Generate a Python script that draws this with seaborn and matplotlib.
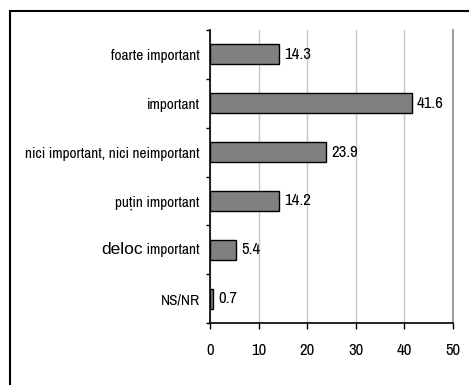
import matplotlib
matplotlib.use("Agg")
import matplotlib.pyplot as plt
import seaborn as sns
import pandas as pd
from matplotlib.patches import Rectangle
from matplotlib.offsetbox import TextArea, HPacker, AnnotationBbox

categories = ["foarte important", "important", "nici important, nici neimportant",
              "puțin important", "deloc important", "NS/NR"]
values = [14.3, 41.6, 23.9, 14.2, 5.4, 0.7]
xticks = [0, 10, 20, 30, 40, 50]

sns.set_style("white")
NARROW = ["Archivo Narrow", "Liberation Sans", "DejaVu Sans"]
WIDE = ["Liberation Sans", "DejaVu Sans"]
plt.rcParams["font.family"] = NARROW
plt.rcParams["text.color"] = "black"
plt.rcParams["xtick.color"] = "black"
plt.rcParams["ytick.color"] = "black"
FS_CAT = 11
FS_NUM = 12

df = pd.DataFrame({"cat": categories, "val": values})

fig = plt.figure(figsize=(4.69, 3.85), dpi=100)
ax = fig.add_axes([210/469, 1 - 323/385, (453 - 210)/469, (323 - 30)/385])

sns.barplot(data=df, x="val", y="cat", orient="h", color="#808080", saturation=1,
            edgecolor="black", linewidth=1, width=0.41, ax=ax)

ax.set_xlim(0, 50)
ax.set_ylim(5.5, -0.5)
ax.set_xlabel("")
ax.set_ylabel("")
ax.set_xticks(xticks)
ax.set_xticklabels([str(t) for t in xticks], fontsize=FS_NUM)
ax.xaxis.grid(True, color="#c8c8c8", linewidth=1)
ax.set_axisbelow(True)

# y ticks at category boundaries, labels at centers
ax.set_yticks(range(len(categories)))
labels = list(categories)
labels[4] = ""
ax.set_yticklabels(labels, fontsize=FS_CAT)
ax.set_yticks([i + 0.5 for i in range(-1, len(categories))], minor=True)
ax.tick_params(axis="y", which="major", length=0, pad=7.5)
ax.tick_params(axis="y", which="minor", left=True, length=3, width=1, color="black", direction="out")
ax.tick_params(axis="x", which="major", bottom=True, length=4, width=1, color="black",
               direction="out", pad=10.5)

ax.spines["top"].set_visible(False)
ax.spines["left"].set_color("black")
ax.spines["left"].set_linewidth(1.2)
ax.spines["bottom"].set_color("black")
ax.spines["bottom"].set_linewidth(1.2)
ax.spines["right"].set_color("#a0a0a0")
ax.spines["right"].set_linewidth(1.5)

# mixed-font label for "deloc important"
pk = HPacker(children=[TextArea("deloc", textprops=dict(family=WIDE, size=12.5, color="black")),
                       TextArea(" important", textprops=dict(family=NARROW, size=FS_CAT, color="black"))],
             pad=0, sep=0, align="baseline")
ab = AnnotationBbox(pk, xy=(0, 4), xycoords=ax.get_yaxis_transform(), box_alignment=(1, 0.5),
                    xybox=(-7.5, 0), boxcoords="offset points", frameon=False, annotation_clip=False)
ax.add_artist(ab)

for i, v in enumerate(values):
    ax.annotate(f"{v}", xy=(v, i), xytext=(3.5, 0), textcoords="offset points",
                ha="left", va="center", fontsize=FS_NUM, color="black")

# outer frame
fig.patches.append(Rectangle((10/469, -0.1), 1.2, 1 - 11/385 + 0.1, transform=fig.transFigure,
                             fill=False, edgecolor="black", linewidth=1.5))

fig.savefig("out.png", dpi=100)
